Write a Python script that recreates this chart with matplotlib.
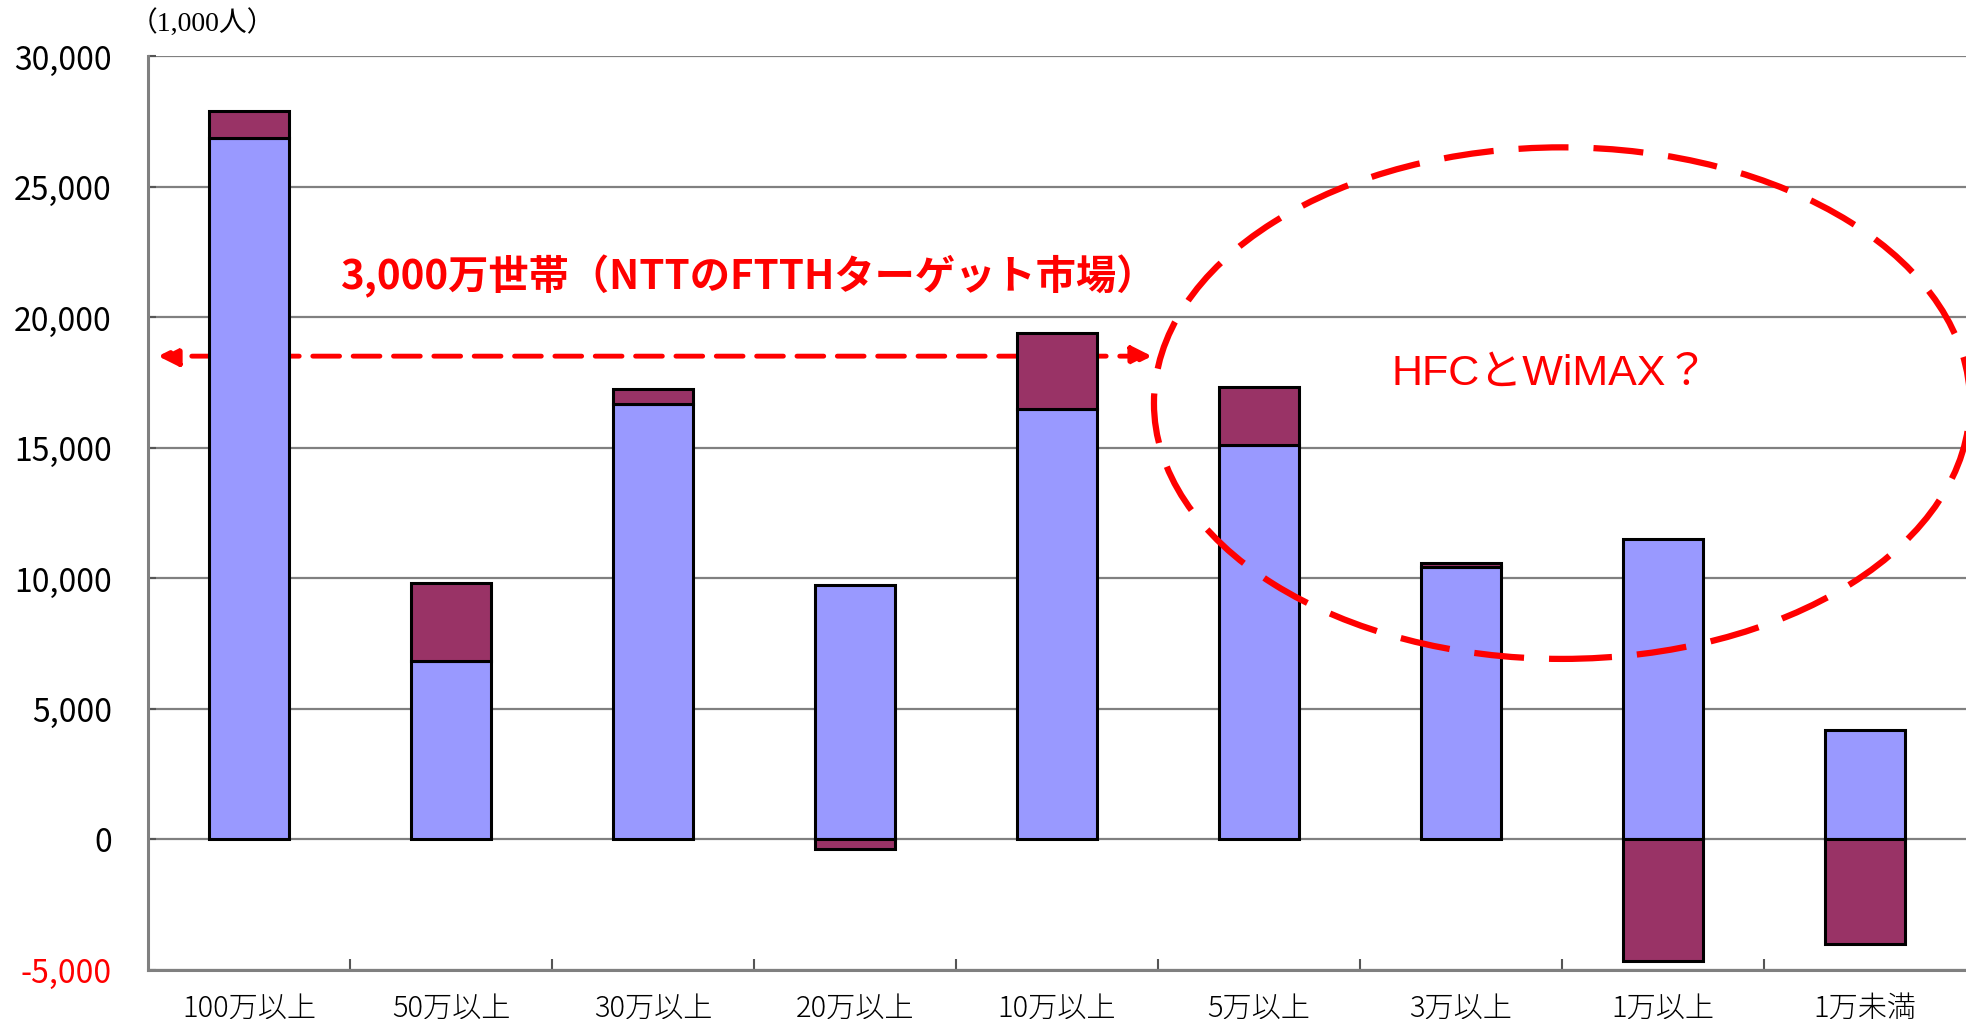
import matplotlib.pyplot as plt
from matplotlib.patches import Ellipse
import numpy as np

plt.rcParams['font.family'] = ['Noto Sans CJK JP', 'DejaVu Sans']

# data (1,000 people)
categories = ['100万以上', '50万以上', '30万以上', '20万以上', '10万以上',
              '5万以上', '3万以上', '1万以上', '1万未満']
base_vals = [26850, 6820, 16660, 9750, 16470, 15080, 10420, 11480, 4180]
change_vals = [1040, 2980, 580, -390, 2930, 2250, 150, -4660, -4030]
yticks = [-5000, 0, 5000, 10000, 15000, 20000, 25000, 30000]

blue = '#9999FF'
plum = '#993366'
red = '#FF0000'

fig = plt.figure(figsize=(19.66, 10.2), dpi=100)
ax = fig.add_axes([148 / 1966, 1 - 970.5 / 1020, 1 - 148 / 1966, (970.5 - 57) / 1020])

x = np.arange(len(categories))
base = np.array(base_vals)
chg = np.array(change_vals)
bottoms = np.where(chg >= 0, base, 0)

ax.bar(x, base, width=0.4, color=blue, edgecolor='black', linewidth=2.2, zorder=3)
ax.bar(x, chg, bottom=bottoms, width=0.4, color=plum, edgecolor='black', linewidth=2.2, zorder=3)

ax.set_xlim(-0.5, len(categories) - 0.5)
ax.set_ylim(-5000, 30000)
ax.set_yticks(yticks)
ax.set_yticklabels([f'{v:,}' for v in yticks], fontsize=23)
for lbl, v in zip(ax.get_yticklabels(), yticks):
    if v < 0:
        lbl.set_color(red)
ax.tick_params(axis='y', length=6, direction='in', width=1.5, color='#555555', pad=26)
ax.yaxis.grid(True, color='#808080', linewidth=1.6, zorder=0)

ax.set_xticks(np.arange(0.5, len(categories) - 0.5, 1.0))
ax.set_xticklabels([])
ax.set_xticks(x, minor=True)
ax.set_xticklabels(categories, minor=True, fontsize=21, fontweight='light')
ax.tick_params(axis='x', which='major', length=8, direction='in', width=1.5, color='#555555')
ax.tick_params(axis='x', which='minor', length=0, pad=16)

for s in ['top', 'right']:
    ax.spines[s].set_visible(False)
for s in ['left', 'bottom']:
    ax.spines[s].set_color('#808080')
    ax.spines[s].set_linewidth(2.2)

ax.text(-0.01, 1.022, '（1,000人）', transform=ax.transAxes, fontsize=20,
        family=['Liberation Serif', 'Noto Sans CJK JP'], ha='left', va='bottom')

# annotations
ax.annotate('', xy=(-0.45, 18500), xytext=(4.47, 18500),
            arrowprops=dict(arrowstyle='<|-|>', color=red, lw=3.5, linestyle=(0, (5.5, 2.8)),
                            mutation_scale=30, shrinkA=0, shrinkB=0), zorder=2)
ax.text(2.47, 21600, '3,000万世帯（NTTのFTTHターゲット市場）', color=red, fontsize=29,
        fontweight='bold', ha='center', va='center', zorder=4)

ell = Ellipse((6.5, 16700), width=4.04, height=19600, fill=False, edgecolor=red,
              linewidth=4.5, linestyle=(0, (8, 4)), zorder=4, clip_on=False)
ax.add_patch(ell)
ax.text(6.44, 17850, 'HFCとWiMAX？', color=red, fontsize=31,
        family=['Liberation Sans', 'Noto Sans CJK JP'], ha='center', va='center', zorder=4)

fig.savefig('out.png', dpi=100)
